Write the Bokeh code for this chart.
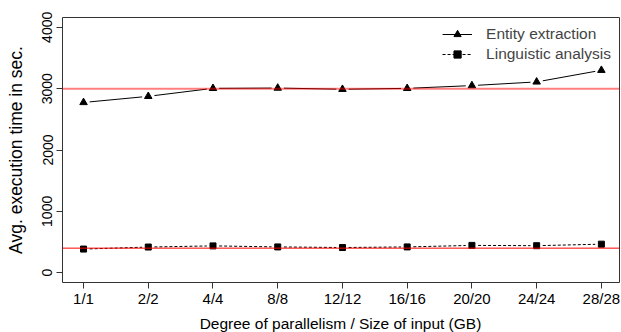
from bokeh.plotting import figure
from bokeh.models import (FixedTicker, Range1d, Span, Legend, LegendItem, ColumnDataSource, Div)
from bokeh.layouts import column
from bokeh.embed import file_html
from bokeh.resources import INLINE

categories = ["1/1", "2/2", "4/4", "8/8", "12/12", "16/16", "20/20", "24/24", "28/28"]
entity = [2775, 2875, 3005, 3010, 2990, 3005, 3050, 3110, 3300]
linguistic = [385, 418, 437, 420, 410, 420, 445, 440, 465]
y_ticks = [0, 1000, 2000, 3000, 4000]
ref_high = 3000
ref_low = 400
x_title = "Degree of parallelism / Size of input (GB)"
y_title = "Avg. execution time in sec."

FONT = "Liberation Sans"
W, H = 621, 310
X0, X1 = 0.675, 9.28

xs = list(range(1, len(categories) + 1))

p = figure(width=W, height=H, output_backend="svg", toolbar_location=None,
           x_range=Range1d(X0, X1), y_range=Range1d(-160, 4160),
           min_border_left=62, min_border_right=2, min_border_top=17, min_border_bottom=28)
p.background_fill_color = "white"
p.border_fill_color = "white"
p.grid.visible = False
p.outline_line_color = "#333333"
p.outline_line_width = 1

GAP = 0.095

def gapped(xv, yv):
    x0, y0, x1, y1 = [], [], [], []
    for i in range(len(xv) - 1):
        dx = xv[i + 1] - xv[i]
        dy = yv[i + 1] - yv[i]
        f = GAP / dx
        x0.append(xv[i] + GAP)
        y0.append(yv[i] + dy * f)
        x1.append(xv[i + 1] - GAP)
        y1.append(yv[i + 1] - dy * f)
    return dict(x0=x0, y0=y0, x1=x1, y1=y1)

e_seg = p.segment(source=ColumnDataSource(gapped(xs, entity)), x0="x0", y0="y0", x1="x1", y1="y1",
                  line_color="black", line_width=1)
e_pts = p.scatter(xs, entity, marker="triangle", size=7.5, fill_color="black", line_color="black")

l_seg = p.segment(source=ColumnDataSource(gapped(xs, linguistic)), x0="x0", y0="y0", x1="x1", y1="y1",
                  line_color="black", line_width=1, line_dash="3 2")
l_pts = p.scatter(xs, linguistic, marker="square", size=6, fill_color="black", line_color="black")

p.add_layout(Span(location=ref_high, dimension="width", line_color="red", line_alpha=0.5, line_width=2))
p.add_layout(Span(location=ref_low, dimension="width", line_color="red", line_width=1))

# axes
p.xaxis.ticker = FixedTicker(ticks=xs)
p.xaxis.major_label_overrides = {x: c for x, c in zip(xs, categories)}
p.yaxis.ticker = FixedTicker(ticks=y_ticks)
p.yaxis.major_label_orientation = "vertical"
for ax in (p.xaxis[0], p.yaxis[0]):
    ax.axis_line_color = None
    ax.major_tick_out = 6
    ax.major_tick_in = 0
    ax.minor_tick_line_color = None
    ax.major_tick_line_color = "#333333"
    ax.major_label_text_font = FONT
    ax.major_label_text_color = "black"
    ax.axis_label_text_font = FONT
    ax.axis_label_text_font_style = "normal"
    ax.axis_label_text_color = "black"
p.xaxis.major_label_text_font_size = "15px"
p.yaxis.major_label_text_font_size = "14px"
p.xaxis.major_label_standoff = 1
p.yaxis.major_label_standoff = 4
p.yaxis.axis_label = y_title
p.yaxis.axis_label_text_font_size = "17.5px"
p.yaxis.axis_label_standoff = 14

legend = Legend(items=[
    LegendItem(label="Entity extraction", renderers=[e_seg, e_pts]),
    LegendItem(label="Linguistic analysis", renderers=[l_seg, l_pts]),
], location="top_right")
legend.border_line_color = None
legend.background_fill_alpha = 0
legend.label_text_font = FONT
legend.label_text_font_size = "15.5px"
legend.glyph_width = 30
legend.glyph_height = 18
legend.label_height = 18
legend.label_standoff = 14
legend.spacing = 2
legend.padding = 2
legend.margin = 8
p.add_layout(legend)

xlab = Div(text=x_title, width=557, height=22, margin=(0, 0, 0, 62),
           styles={"font-family": "'Liberation Sans'", "font-size": "15.5px",
                   "line-height": "15.5px", "text-align": "center",
                   "padding-top": "6px", "box-sizing": "border-box",
                   "color": "black", "white-space": "nowrap", "width": "557px",
                   "display": "block"})

layout = column(p, xlab, spacing=0)

open("out.html", "w").write(file_html(layout, INLINE))
